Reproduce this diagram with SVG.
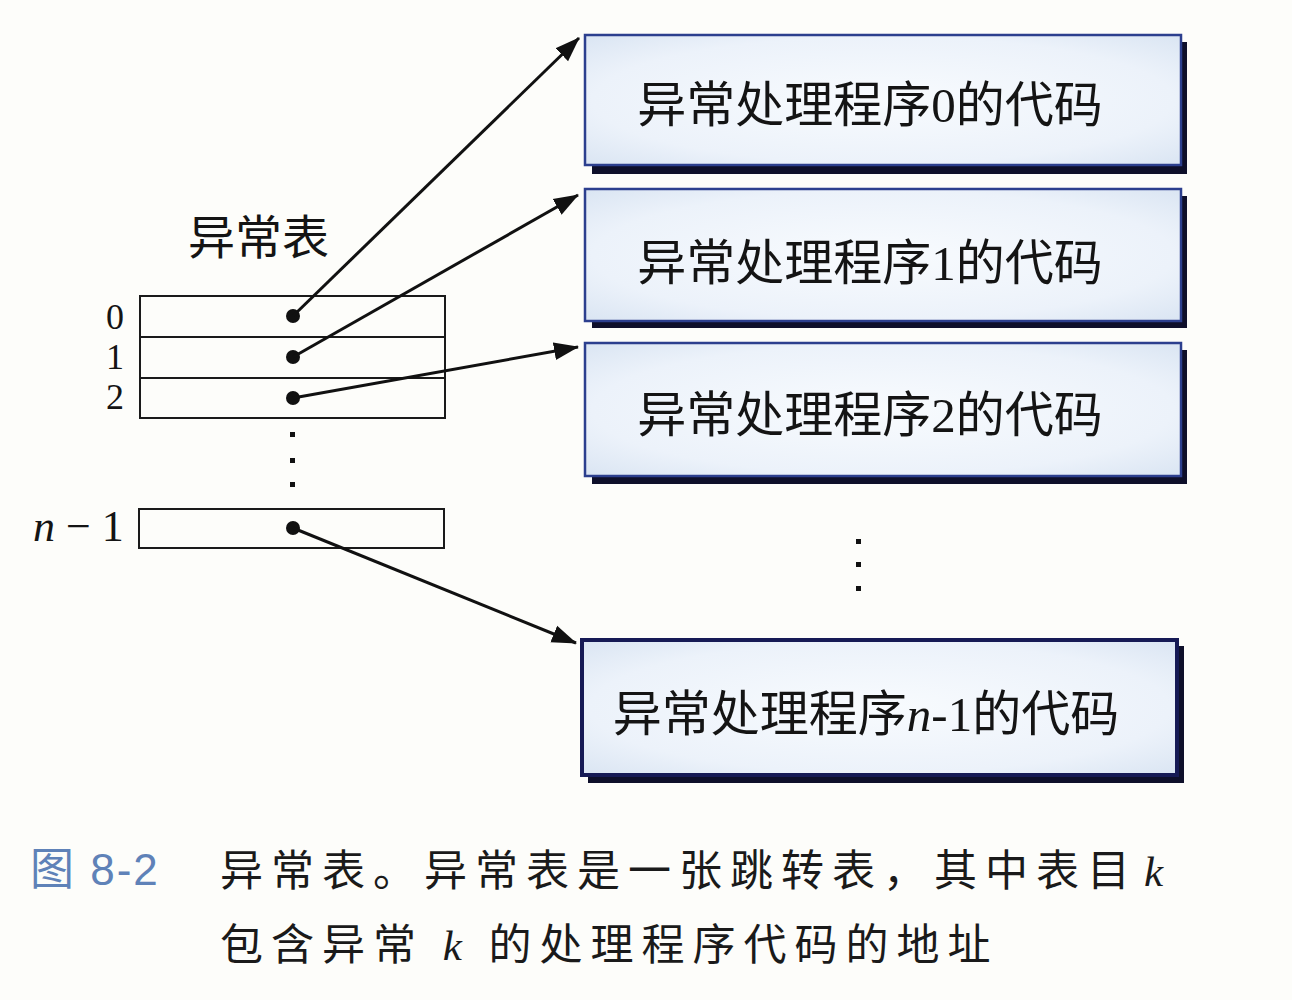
<svg xmlns="http://www.w3.org/2000/svg" width="1292" height="1000" viewBox="0 0 1292 1000">
  <defs>
    <radialGradient id="boxFill" cx="50%" cy="50%" r="75%">
      <stop offset="0" stop-color="#f8fbfe"/>
      <stop offset="0.65" stop-color="#ecf2fa"/>
      <stop offset="1" stop-color="#d6e2f1"/>
    </radialGradient>
    <marker id="arrow" markerUnits="userSpaceOnUse" markerWidth="26" markerHeight="20" refX="24" refY="10" orient="auto">
      <path d="M0,1 L25,10 L0,19 Z" fill="#111"/>
    </marker>
    <style>
      .bg { fill: #fdfdfa; }
      .shadow { fill: #0e0f2a; }
      .box { fill: url(#boxFill); stroke: #2c3f8e; stroke-width: 2.5; }
      .box-last { fill: url(#boxFill); stroke: #161a55; stroke-width: 4; }
      .cell { fill: none; stroke: #1a1a1a; stroke-width: 2; }
      .cjk { font-family: "Liberation Serif", "Noto Sans CJK SC", serif; fill: #141414; }
      .num { font-family: "Liberation Serif", serif; fill: #141414; }
      .wire { stroke: #111; stroke-width: 3; fill: none; marker-end: url(#arrow); }
      .dot { fill: #111; }
      .caption { font-family: "Liberation Serif", "Noto Sans CJK SC", serif; font-size: 43px; fill: #1a1a1a; letter-spacing: 8px; }
    </style>
  </defs>

  <rect class="bg" x="0" y="0" width="1292" height="1000"/>

  <!-- exception table -->
  <g id="table">
    <text class="cjk" x="188" y="254" font-size="47">异常表</text>
    <rect class="cell" x="140" y="296" width="305" height="122"/>
    <line class="cell" x1="140" y1="337" x2="445" y2="337"/>
    <line class="cell" x1="140" y1="378" x2="445" y2="378"/>
    <rect class="cell" x="139" y="509" width="305" height="39"/>
    <text class="num" x="106" y="329" font-size="36">0</text>
    <text class="num" x="106" y="369" font-size="36">1</text>
    <text class="num" x="106" y="409" font-size="36">2</text>
    <text class="num" x="33" y="541" font-size="44"><tspan font-style="italic">n</tspan> − 1</text>
    <circle class="dot" cx="293" cy="316" r="7"/>
    <circle class="dot" cx="293" cy="357" r="7"/>
    <circle class="dot" cx="293" cy="398" r="7"/>
    <circle class="dot" cx="293" cy="528" r="7"/>
    <rect class="dot" x="290" y="432" width="5" height="5"/>
    <rect class="dot" x="290" y="458" width="5" height="5"/>
    <rect class="dot" x="290" y="482" width="5" height="5"/>
  </g>

  <!-- handler code blocks -->
  <g id="handler0">
    <rect class="shadow" x="592" y="42" width="595" height="132"/>
    <rect class="box" x="585" y="35" width="596" height="130"/>
    <text class="cjk" x="870" y="122" font-size="49" text-anchor="middle">异常处理程序0的代码</text>
  </g>
  <g id="handler1">
    <rect class="shadow" x="592" y="196" width="595" height="132"/>
    <rect class="box" x="585" y="189" width="596" height="132"/>
    <text class="cjk" x="870" y="280" font-size="49" text-anchor="middle">异常处理程序1的代码</text>
  </g>
  <g id="handler2">
    <rect class="shadow" x="592" y="350" width="595" height="134"/>
    <rect class="box" x="585" y="343" width="596" height="133"/>
    <text class="cjk" x="870" y="432" font-size="49" text-anchor="middle">异常处理程序2的代码</text>
  </g>
  <g id="handler-more">
    <rect class="dot" x="856" y="539" width="5" height="5"/>
    <rect class="dot" x="856" y="562" width="5" height="5"/>
    <rect class="dot" x="856" y="586" width="5" height="5"/>
  </g>
  <g id="handler-last">
    <rect class="shadow" x="588" y="646" width="596" height="137"/>
    <rect class="box-last" x="582" y="640" width="595" height="135"/>
    <text class="cjk" x="866" y="731" font-size="49" text-anchor="middle">异常处理程序<tspan font-style="italic">n</tspan>-1的代码</text>
  </g>

  <!-- pointers from table entries to handler code -->
  <g id="connectors">
    <line class="wire" x1="293" y1="316" x2="579" y2="38"/>
    <line class="wire" x1="293" y1="357" x2="578" y2="195"/>
    <line class="wire" x1="293" y1="398" x2="578" y2="347"/>
    <line class="wire" x1="293" y1="528" x2="576" y2="643"/>
  </g>

  <!-- figure caption -->
  <g id="caption">
    <text x="30" y="885" font-family="'Liberation Sans', 'Noto Sans CJK SC', sans-serif" font-size="44" fill="#5f82b8" letter-spacing="2">图 8-2</text>
    <text class="caption" x="220" y="886">异常表。异常表是一张跳转表，其中表目<tspan font-style="italic" dx="6">k</tspan></text>
    <text class="caption" x="220" y="960">包含异常 <tspan font-style="italic">k</tspan> 的处理程序代码的地址</text>
  </g>
</svg>
